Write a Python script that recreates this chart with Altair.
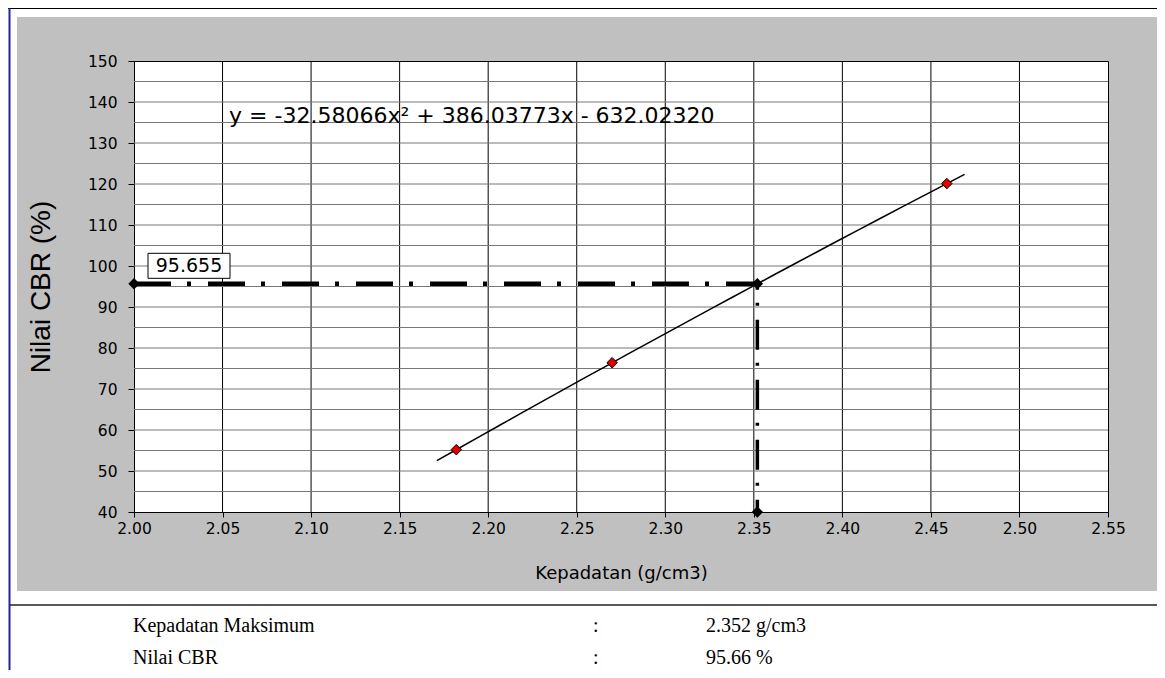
import altair as alt
import pandas as pd

# ---------------- data ----------------
density = [2.182, 2.270, 2.459]          # Kepadatan (g/cm3)
cbr = [55.2, 76.4, 120.1]                # Nilai CBR (%)
x_ticks = [2.00, 2.05, 2.10, 2.15, 2.20, 2.25, 2.30, 2.35, 2.40, 2.45, 2.50, 2.55]
y_ticks = [40, 50, 60, 70, 80, 90, 100, 110, 120, 130, 140, 150]
x_grid = [2.05, 2.10, 2.15, 2.20, 2.25, 2.30, 2.35, 2.40, 2.45, 2.50]
y_grid = [45, 50, 55, 60, 65, 70, 75, 80, 85, 90, 95, 100, 105, 110, 115, 120, 125, 130, 135, 140, 145]
max_density = 2.352
cbr_at_max = 95.655
x_start = 2.00
y_start = 40
trend_extent = [2.171, 2.469]
equation = "y = -32.58066x\u00b2 + 386.03773x - 632.02320"
equation_pos = [2.0537, 136.6]
summary_labels = ["Kepadatan Maksimum", "Nilai CBR"]
summary_values = ["2.352 g/cm3", "95.66 %"]

# ---------------- geometry ----------------
W, H = 974, 451
PAD = {"left": 126, "top": 53, "right": 49, "bottom": 158}

xs = alt.Scale(domain=[2.0, 2.55], nice=False, zero=False)
ys = alt.Scale(domain=[40, 150], nice=False, zero=False)

x_axis = alt.Axis(
    values=x_ticks, format=".2f", grid=False, labelFlush=False, labelOverlap=False,
    labelFont="DejaVu Sans", labelFontSize=15.5, labelColor="black", labelPadding=4,
    tickSize=5, tickColor="black", domainColor="black",
    title="Kepadatan (g/cm3)", titleFont="DejaVu Sans", titleFontSize=18,
    titleFontWeight="normal", titleColor="black", titleX=W / 2, titleY=61,
    titleBaseline="middle", titleAlign="center",
)
y_axis = alt.Axis(
    values=y_ticks, grid=False, labelOverlap=False,
    labelFont="DejaVu Sans", labelFontSize=15.5, labelColor="black", labelPadding=11,
    tickSize=6, tickColor="black", domainColor="black",
    title="Nilai CBR (%)", titleFont="Liberation Sans", titleFontSize=28,
    titleFontWeight="normal", titleColor="black", titleX=-93, titleY=H / 2,
    titleBaseline="middle", titleAlign="center", titleAngle=270,
)


def X(field):
    return alt.X(field, type="quantitative", scale=xs, axis=x_axis)


def Y(field):
    return alt.Y(field, type="quantitative", scale=ys, axis=y_axis)


one = pd.DataFrame({"k": [0]})

# decorative white strips and frame lines around the grey panel
def strip(x1, x2, y1, y2, color="white"):
    return alt.Chart(one).mark_rect(color=color, opacity=1).encode(
        x=alt.value(x1), x2=alt.value(x2), y=alt.value(y1), y2=alt.value(y2))

decor = [
    strip(-126, 1023, -53, -44),
    strip(-126, -117, -53, 609),
    strip(-126, 1023, 530, 609),
    alt.Chart(one).mark_rule(color="black", strokeWidth=1).encode(
        x=alt.value(-126), x2=alt.value(1023), y=alt.value(-52.5)),
    alt.Chart(one).mark_rule(color="#23239a", strokeWidth=2).encode(
        x=alt.value(-124.5), y=alt.value(-53), y2=alt.value(609)),
    alt.Chart(one).mark_rule(color="#222222", strokeWidth=1.5).encode(
        x=alt.value(-124), x2=alt.value(1023), y=alt.value(544)),
]

# gridlines
vgrid = alt.Chart(pd.DataFrame({"x": x_grid})).mark_rule(color="black", strokeWidth=1).encode(x=X("x"))
hgrid = alt.Chart(pd.DataFrame({"y": y_grid})).mark_rule(color="#777777", strokeWidth=1).encode(y=Y("y"))

pts = pd.DataFrame({"x": density, "y": cbr})

trend = alt.Chart(pts).transform_regression(
    "x", "y", method="poly", order=2, extent=trend_extent
).mark_line(color="black", strokeWidth=1.5).encode(x=X("x"), y=Y("y"))

hline = alt.Chart(pd.DataFrame({"x": [x_start], "x2": [max_density], "y": [cbr_at_max]})).mark_rule(
    color="black", strokeWidth=4.5, strokeDash=[37, 16, 4, 17], strokeCap="butt"
).encode(x=X("x"), x2="x2", y=Y("y"))

vline = alt.Chart(pd.DataFrame({"x": [max_density], "y": [cbr_at_max], "y2": [y_start]})).mark_rule(
    color="black", strokeWidth=3.5, strokeDash=[30, 13, 3, 14], strokeDashOffset=24, strokeCap="butt"
).encode(x=X("x"), y=Y("y"), y2="y2")

markers = pd.DataFrame({"x": [x_start, max_density, max_density],
                        "y": [cbr_at_max, cbr_at_max, y_start]})
black_d = alt.Chart(markers).mark_point(
    shape="diamond", filled=True, color="black", size=130, opacity=1
).encode(x=X("x"), y=Y("y"))

red_d = alt.Chart(pts).mark_point(
    shape="diamond", filled=True, fill="#dd0000", stroke="black", strokeWidth=1, size=110, opacity=1
).encode(x=X("x"), y=Y("y"))

lab = pd.DataFrame({"x": [x_start], "y": [cbr_at_max], "t": [f"{cbr_at_max:.3f}"]})
box = alt.Chart(lab).mark_point(
    shape="M-1,-0.305L1,-0.305L1,0.305L-1,0.305Z", size=82 * 82, filled=True,
    fill="white", stroke="black", strokeWidth=1, opacity=1, xOffset=55, yOffset=-18
).encode(x=X("x"), y=Y("y"))
box_text = alt.Chart(lab).mark_text(
    font="DejaVu Sans", fontSize=19, color="black", align="center", baseline="middle",
    dx=55, dy=-18
).encode(x=X("x"), y=Y("y"), text="t:N")

eq = alt.Chart(pd.DataFrame({"x": [equation_pos[0]], "y": [equation_pos[1]], "t": [equation]})).mark_text(
    font="DejaVu Sans", fontSize=22, color="black", align="left", baseline="middle"
).encode(x=X("x"), y=Y("y"), text="t:N")

summary = []
for i, (lbl, val) in enumerate(zip(summary_labels, summary_values)):
    row = pd.DataFrame({"a": [lbl], "b": [":"], "c": [val]})
    yy = 565 + 32 * i
    for col, xx in (("a", -1), ("b", 459), ("c", 572)):
        summary.append(alt.Chart(row).mark_text(
            font="Liberation Serif", fontSize=20, color="black", align="left", baseline="middle"
        ).encode(x=alt.value(xx), y=alt.value(yy), text=f"{col}:N"))

chart = alt.layer(
    *decor, vgrid, hgrid, trend, hline, vline, black_d, red_d, box, box_text, eq, *summary
).properties(
    width=W, height=H, padding=PAD, autosize=alt.AutoSizeParams(type="none"),
    background="#c0c0c0",
).configure_view(fill="white", stroke="black", strokeWidth=1)

chart.save("out.html", embed_options={"renderer": "svg", "actions": False})
